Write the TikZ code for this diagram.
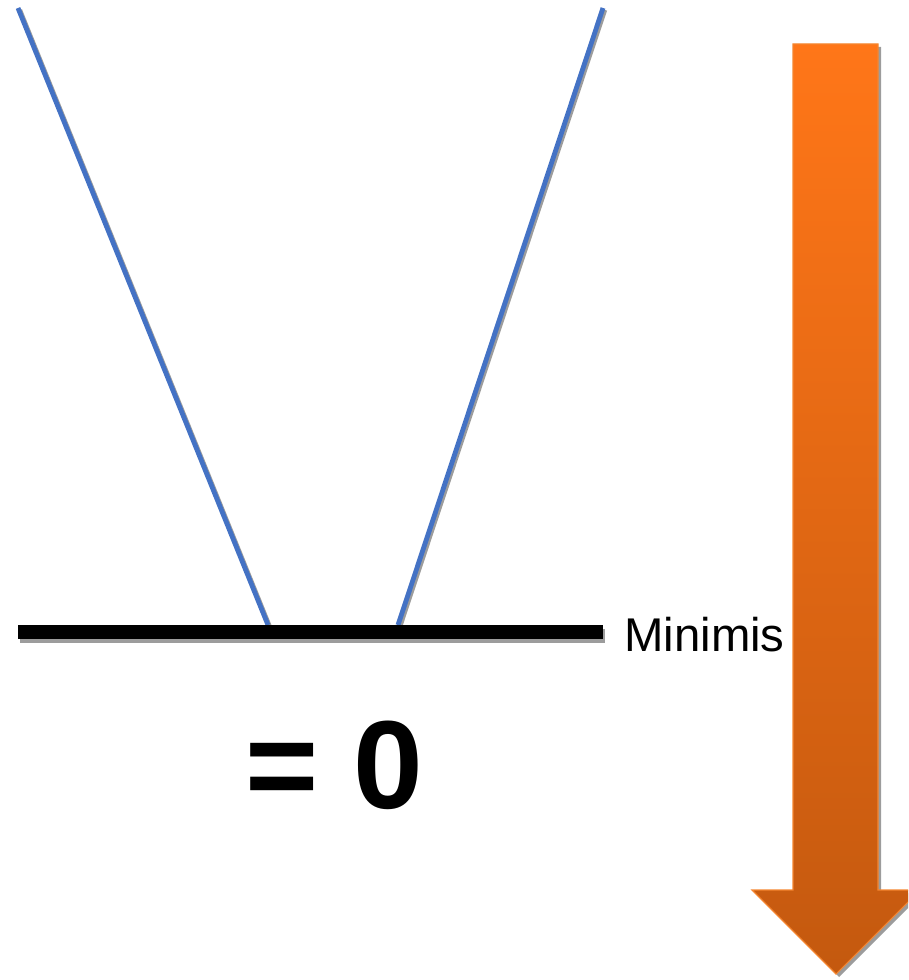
\documentclass[tikz,border=0pt]{standalone}
\usepackage{fontspec}
\setmainfont{Liberation Sans}
\usetikzlibrary{calc}
\definecolor{rayblue}{HTML}{4472C4}
\definecolor{shadegray}{HTML}{9C9C9C}
\definecolor{arrowtop}{HTML}{FF7618}
\definecolor{arrowbottom}{HTML}{C4590F}
\definecolor{arrowedge}{HTML}{F5852F}

\begin{document}
\begin{tikzpicture}[
  x=0.75pt, y=-0.75pt,
  ray/.style={draw=rayblue, line width=3.6pt},
  rayshade/.style={draw=shadegray, line width=3.2pt},
  floor/.style={draw=black, line width=11pt},
  floorshade/.style={draw=shadegray, line width=11pt},
  label/.style={inner sep=0pt, font=\fontsize{35.5}{42}\selectfont},
]
\clip (0,0) rectangle (908,980);

% Two rays meeting the floor
\coordinate (ltop) at (18,8);
\coordinate (lfoot) at (268,625);
\coordinate (rtop) at (603,8);
\coordinate (rfoot) at (398,625);
\draw[rayshade] ($(ltop)+(2,2)$) -- ($(lfoot)+(2,2)$);
\draw[rayshade] ($(rtop)+(2,2)$) -- ($(rfoot)+(2,2)$);
\draw[ray] (ltop) -- (lfoot);
\draw[ray] (rtop) -- (rfoot);

% Floor line with its label
\coordinate (fleft) at (18,632);
\coordinate (fright) at (603,632);
\draw[floorshade] ($(fleft)+(2,4)$) -- ($(fright)+(2,4)$);
\draw[floor] (fleft) -- (fright);
\node[label, anchor=west] (minimis) at (624,635) {Minimis};

% Result below the floor
\node[inner sep=0pt, font=\bfseries\fontsize{94}{100}\selectfont] (zero) at (334,765) {= 0};

% Big downward arrow on the right
\fill[shadegray] ($(793,44)+(3,3)$) -- ++(85,0) -- ++(0,846) -- ++(42,0)
  -- ++(-84,84) -- ++(-84,-84) -- ++(41,0) -- cycle;
\shade[top color=arrowtop, bottom color=arrowbottom, draw=arrowedge, line width=0.8pt]
  (793,44) -- (878,44) -- (878,890) -- (920,890) -- (836,974)
  -- (752,890) -- (793,890) -- cycle;
\end{tikzpicture}
\end{document}
